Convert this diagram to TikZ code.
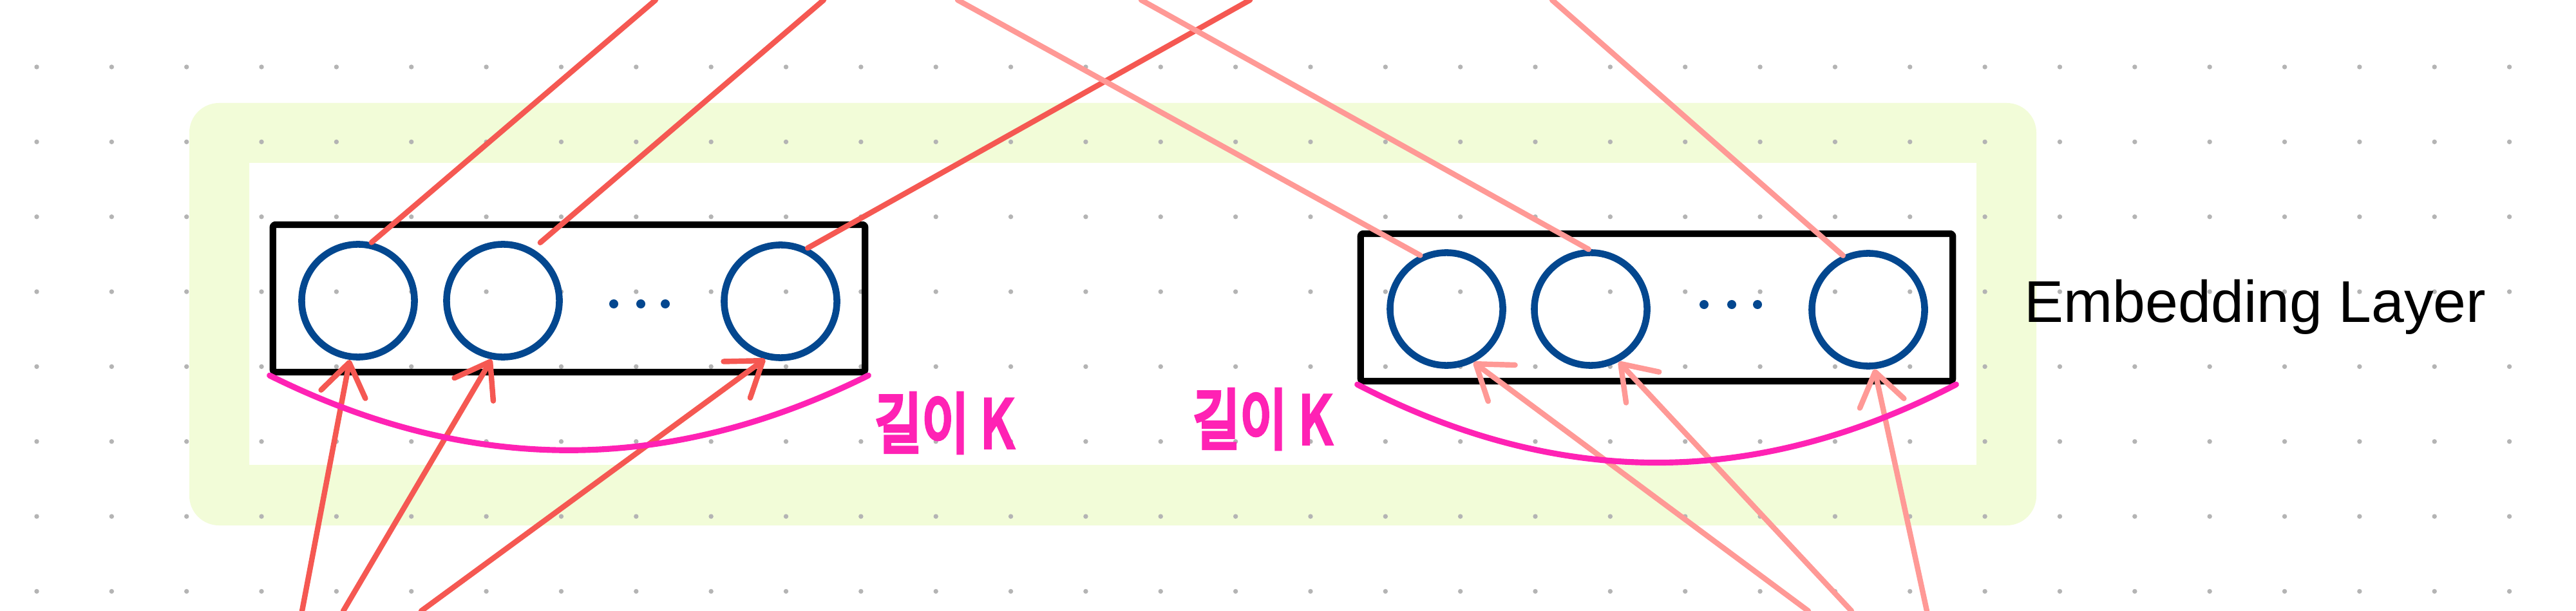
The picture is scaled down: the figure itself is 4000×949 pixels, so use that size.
\documentclass[tikz,border=0pt]{standalone}
\usepackage{fontspec}
\usepackage{graphicx}
\setmainfont{Liberation Sans}
\newfontfamily\krfont[FakeBold=6]{Noto Sans CJK KR}
\usetikzlibrary{arrows.meta}
\definecolor{gridgrey}{RGB}{180,180,180}
\definecolor{framegreen}{RGB}{242,252,216}
\definecolor{circblue}{RGB}{3,71,143}
\definecolor{redline}{RGB}{245,88,82}
\definecolor{pinkline}{RGB}{255,153,150}
\definecolor{magline}{RGB}{255,34,180}
\begin{document}
\begin{tikzpicture}[x=0.01cm,y=-0.01cm,
  unit/.style={circle, draw=circblue, line width=3pt, minimum size=1.75cm, inner sep=0pt},
  layerbox/.style={draw=black, line width=2.9pt, line join=round, rounded corners=1pt, minimum width=9.19cm, minimum height=2.29cm, inner sep=0pt},
  ell/.style={circle, fill=circblue, minimum size=0.14cm, inner sep=0pt},
  outline/.style={line width=2.4pt, line cap=round},
  inarrow/.style={line width=2.4pt, line cap=round, -{Straight Barb[length=5mm,width=7mm,round]}},
  lenbrace/.style={draw=magline, line width=2.6pt, line cap=round},
  lenlabel/.style={text=magline, font=\krfont\fontsize{29}{32}\selectfont, inner sep=0pt}
]
\useasboundingbox (0,0) rectangle (4000,949);
\fill[white] (0,0) rectangle (4000,949);
% green frame
\fill[framegreen, even odd rule] [rounded corners=0.46cm] (294,160) rectangle (3162,816) [sharp corners] (387,253) rectangle (3069,722);
% dot grid
\foreach \i in {0,...,33} \foreach \j in {0,...,7} \fill[gridgrey] ({57+116.35*\i},{104+116.35*\j}) circle (0.037cm);
% boxes
\node (lbox) [layerbox] at (883.5,463.5) {};
\node (rbox) [layerbox] at (2572.5,477.5) {};
% units
\node (l1) [unit] at (556,467) {};
\node (l2) [unit] at (781,467) {};
\node (l3) [unit] at (1212,468) {};
\node (r1) [unit] at (2246,480) {};
\node (r2) [unit] at (2470,480) {};
\node (r3) [unit] at (2901,481) {};
% ellipses
\node (ld1) [ell] at (953,472) {};
\node (ld2) [ell] at (995,472) {};
\node (ld3) [ell] at (1033,472) {};
\node (rd1) [ell] at (2646,473) {};
\node (rd2) [ell] at (2689,473) {};
\node (rd3) [ell] at (2729,473) {};
% free ends
\coordinate (tA) at (1018,0);
\coordinate (tB) at (1279,0);
\coordinate (tC) at (1941,0);
\coordinate (tD) at (1487,0);
\coordinate (tE) at (1772,0);
\coordinate (tF) at (2410,0);
\coordinate (b1) at (469,949);
\coordinate (b2) at (533,949);
\coordinate (b3) at (654,949);
\coordinate (b4) at (2808,949);
\coordinate (b5) at (2875,949);
\coordinate (b6) at (2992,949);
% outgoing lines
\draw[outline, redline] (tA) -- (l1.77);
\draw[outline, redline, shorten >=0.15cm] (tB) -- (l2.60);
\draw[outline, redline] (tC) -- (l3.63);
\draw[outline, pinkline] (tD) -- (r1.116);
\draw[outline, pinkline] (tE) -- (r2.92);
\draw[outline, pinkline] (tF) -- (r3.115);
% incoming arrows
\draw[inarrow, redline] (b1) -- (l1.-98);
\draw[inarrow, redline] (b2) -- (l2.-101);
\draw[inarrow, redline] (b3) -- (l3.-105);
\draw[inarrow, pinkline] (b4) -- (r1.-63);
\draw[inarrow, pinkline] (b5) -- (r2.-62);
\draw[inarrow, pinkline] (b6) -- (r3.-84);
% length braces
\draw[lenbrace] (lbox.south west) .. controls (730,738) and (1036,738) .. (lbox.south east);
\draw[lenbrace] (rbox.south west) .. controls (2419,759) and (2726,759) .. (rbox.south east);
% labels
\node (lenL) [lenlabel] at (1466,657) {\scalebox{0.78}[1]{길이 K}};
\node (lenR) [lenlabel] at (1960,651) {\scalebox{0.78}[1]{길이 K}};
\node (emb) [anchor=base west, font=\fontsize{26}{30}\selectfont, inner sep=0pt] at (3143,500) {Embedding Layer};
\end{tikzpicture}
\end{document}
